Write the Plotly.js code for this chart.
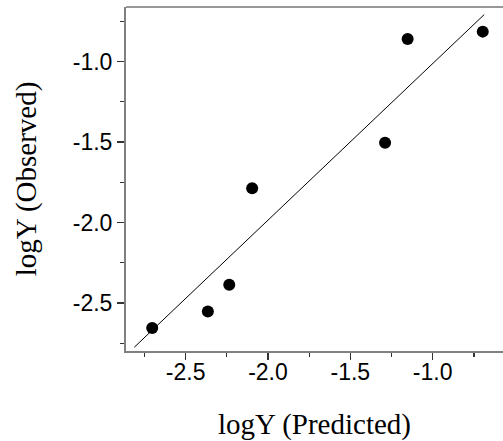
<!DOCTYPE html>
<html>
<head>
<meta charset="utf-8">
<script src="https://cdn.plot.ly/plotly-3.0.1.min.js"></script>
<style>html,body{margin:0;padding:0;background:#fff;overflow:hidden}</style>
</head>
<body>
<div id="chart" style="width:503px;height:441px"></div>
<script>
// Observed vs predicted points
var predicted = [-2.703, -2.365, -2.235, -2.096, -1.289, -1.152, -0.696];
var observed  = [-2.655, -2.553, -2.386, -1.787, -1.504, -0.860, -0.814];
// Fitted line end points
var fitX = [-2.812, -0.687];
var fitY = [-2.775, -0.708];
// Tick values and labels
var xTickVals = [-2.5, -2.0, -1.5, -1.0];
var xTickText = ["-2.5", "-2.0", "-1.5", "-1.0"];
var yTickVals = [-2.5, -2.0, -1.5, -1.0];
var yTickText = ["-2.5", "-2.0", "-1.5", "-1.0"];
// Axis texts
var xTitle = "logY (Predicted)";
var yTitle = "logY (Observed)";

var traces = [
  {x: fitX, y: fitY, type: "scatter", mode: "lines",
   line: {color: "#000", width: 1}, hoverinfo: "skip"},
  {x: predicted, y: observed, type: "scatter", mode: "markers",
   marker: {color: "#000", size: 12}}
];

var tickFont = {family: "Liberation Sans, Arial, sans-serif", size: 23, color: "#000"};
var titleFont = {family: "Liberation Serif, Times New Roman, serif", size: 29, color: "#000"};

var layout = {
  width: 503, height: 441,
  margin: {l: 126, r: 0, t: 7, b: 90, pad: 0},
  showlegend: false,
  paper_bgcolor: "#fff", plot_bgcolor: "#fff",
  xaxis: {
    range: [-2.862, -0.573], tickmode: "array", tickvals: xTickVals, ticktext: xTickText,
    showgrid: false, zeroline: false,
    showline: true, linecolor: "#808080", linewidth: 2,
    ticks: "outside", ticklen: 7, tickwidth: 1.3, tickcolor: "#333",
    ticklabelstandoff: -8,
    minor: {dtick: 0.25, tick0: -2.5, ticks: "outside", ticklen: 4, tickwidth: 1.3, tickcolor: "#333", showgrid: false},
    tickfont: tickFont,
    title: {text: xTitle, font: titleFont, standoff: 40}
  },
  yaxis: {
    range: [-2.798, -0.661], tickmode: "array", tickvals: yTickVals, ticktext: yTickText,
    showgrid: false, zeroline: false,
    showline: true, linecolor: "#808080", linewidth: 2,
    ticks: "outside", ticklen: 7, tickwidth: 1.3, tickcolor: "#333",
    minor: {dtick: 0.25, tick0: -2.5, ticks: "outside", ticklen: 4, tickwidth: 1.3, tickcolor: "#333", showgrid: false},
    tickfont: tickFont,
    title: {text: yTitle, font: titleFont, standoff: 28}
  },
  shapes: [
    {type: "line", xref: "paper", yref: "paper", x0: 0, x1: 1, y0: 1, y1: 1,
     line: {color: "#333", width: 1.2}}
  ]
};

Plotly.newPlot("chart", traces, layout, {staticPlot: true, displayModeBar: false});
</script>
</body>
</html>
